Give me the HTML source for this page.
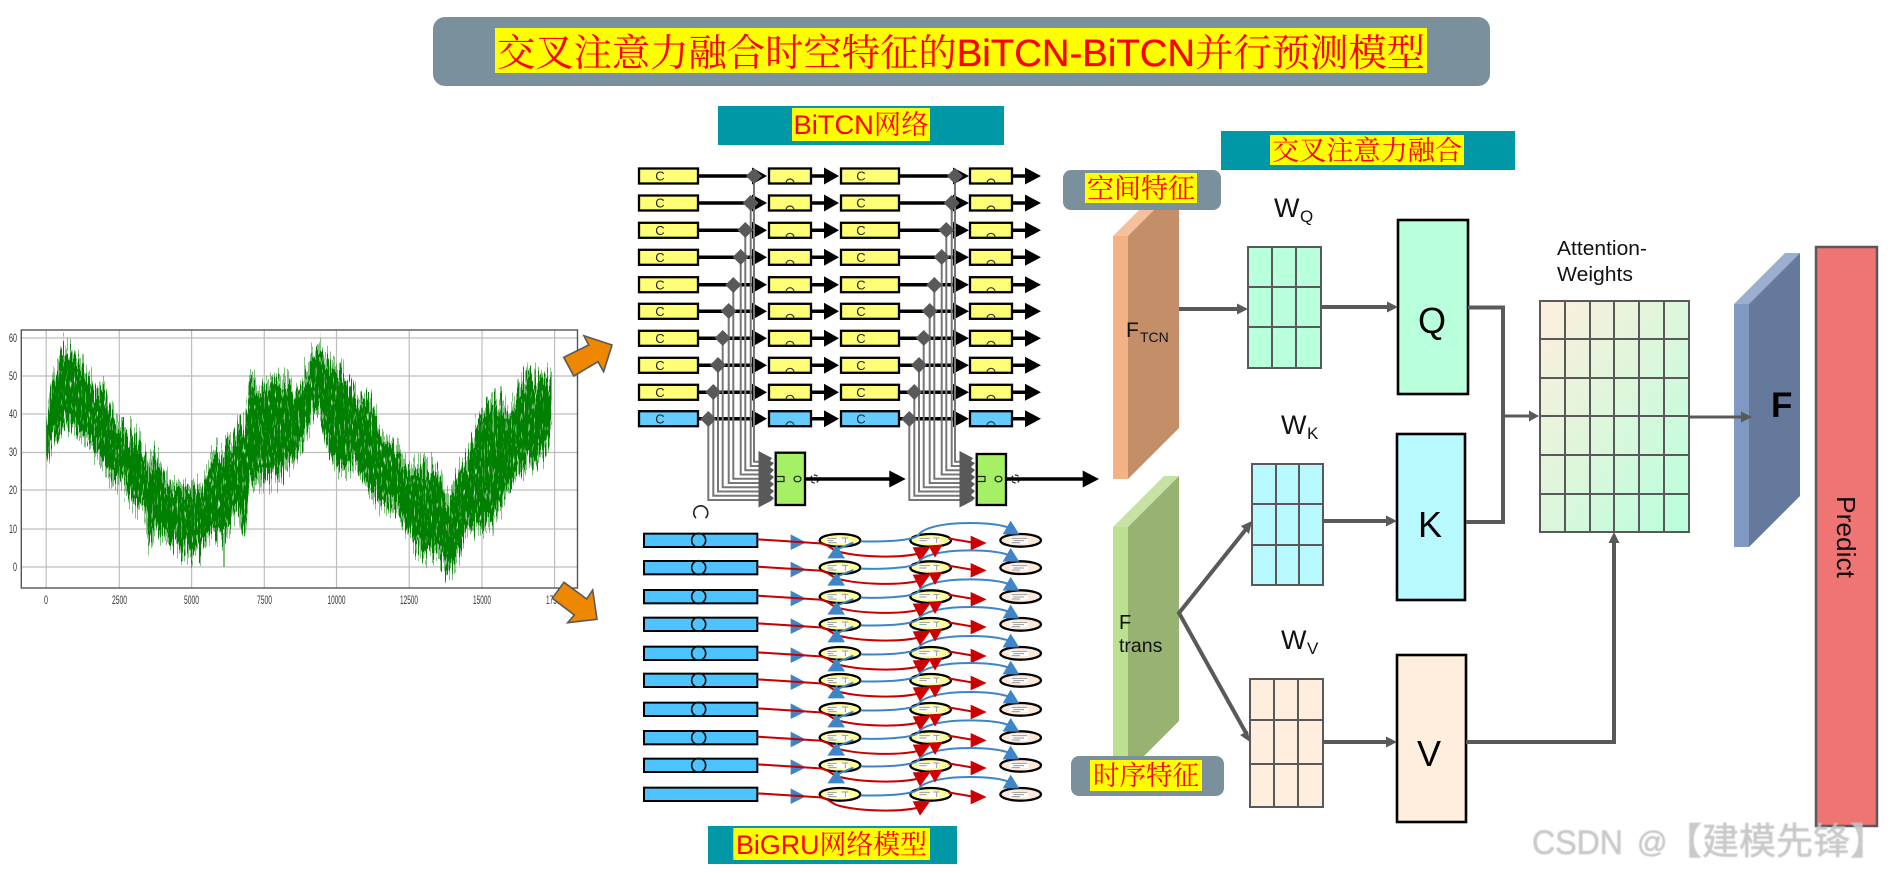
<!DOCTYPE html>
<html><head><meta charset="utf-8"><style>html,body{margin:0;padding:0;background:#fff}svg{display:block}text{font-family:"Liberation Sans","Noto Serif CJK SC",serif}</style></head><body>
<svg xmlns="http://www.w3.org/2000/svg" width="1890" height="873" viewBox="0 0 1890 873">
<defs>
<linearGradient id="ag" x1="0" y1="0" x2="1" y2="1"><stop offset="0" stop-color="#ffeedd"/><stop offset="1" stop-color="#b8ffdb"/></linearGradient>
<filter id="jag" filterUnits="userSpaceOnUse" x="0" y="320" width="600" height="280" color-interpolation-filters="sRGB">
<feTurbulence type="fractalNoise" baseFrequency="0.85 0.006" numOctaves="2" seed="7" result="n"/>
<feColorMatrix in="n" type="matrix" values="0 0 0 0 .5  0 2 0 0 -.5  0 0 0 0 .5  0 0 0 0 1" result="m"/>
<feDisplacementMap in="SourceGraphic" in2="m" scale="32" xChannelSelector="R" yChannelSelector="G" result="d"/>
<feTurbulence type="fractalNoise" baseFrequency="0.7 0.09" numOctaves="2" seed="3" result="t"/>
<feColorMatrix in="t" type="matrix" values="0 0 0 0 0  0 0 0 0 0  0 0 0 0 0  6 0 0 0 -1.2" result="mask"/>
<feComposite in="d" in2="mask" operator="in"/>
</filter>
<filter id="soft" x="-5%" y="-20%" width="110%" height="140%"><feGaussianBlur stdDeviation=".5"/></filter>
<g id="tr">
<path d="M698 0H754M811 0H826M899 0H955M1012 0H1027" stroke="#000" stroke-width="3.5" fill="none"/>
<path d="M752 -8.5L767 0L752 8.5ZM824 -8.5L839 0L824 8.5ZM953 -8.5L969 0L953 8.5ZM1025 -8.5L1041 0L1025 8.5Z" fill="#000"/>
<g stroke="#000" stroke-width="2.3"><rect x="639" y="-7.5" width="59" height="15"/><rect x="769" y="-7.5" width="42" height="15"/><rect x="841" y="-7.5" width="58" height="15"/><rect x="970" y="-7.5" width="42" height="15"/></g>
<g font-size="13" fill="#222" text-anchor="middle"><text x="660" y="4.7">C</text><text x="861" y="4.7">C</text></g>
<path d="M786 7a4 4 0 1 1 8 0M987 7a4 4 0 1 1 8 0" fill="none" stroke="#333" stroke-width="1.2"/>
</g>
<g id="wires" fill="none" stroke="#777" stroke-width="2">
<path d="M754 176V461.7H759M750.7 203V466H759M745.3 230V470.2H759M740.7 257V474.5H759M733.3 285V478.7H759M728.7 311V483H759M722.7 338V487.3H759M718 365V491.5H759M713.3 392V495.8H759M708.3 419V500H759"/>
</g>
<g id="dia" fill="#595959">
<path d="M754 168l8 8-8 8-8-8ZM750.7 195l8 8-8 8-8-8ZM745.3 222l8 8-8 8-8-8ZM740.7 249l8 8-8 8-8-8ZM733.3 277l8 8-8 8-8-8ZM728.7 303l8 8-8 8-8-8ZM722.7 330l8 8-8 8-8-8ZM718 357l8 8-8 8-8-8ZM713.3 384l8 8-8 8-8-8ZM708.3 411l8 8-8 8-8-8Z"/>
<path d="M758.5 451L772 458L770 461L774 463L770 467L774 470L770 474L774 477L770 481L774 484L770 488L774 491L770 495L774 498L771 501L758.5 507.5Z"/>
</g>
<g id="gr0">
<g fill="#ffff99" stroke="#000" stroke-width="7"><ellipse cx="660" cy="0" rx="61" ry="19"/><ellipse cx="932" cy="0" rx="61" ry="19"/></g>
<ellipse cx="1202" cy="0" rx="61" ry="19" fill="#fde9d9" stroke="#000" stroke-width="7"/>
<g fill="#fff"><rect x="618" y="-9" width="68" height="18"/><rect x="892" y="-9" width="66" height="18"/><rect x="1170" y="-9" width="54" height="18"/></g>
<path d="M622 -6H650M622 1H640M625 7H650M665 -7H685M676 -7V8M898 -6H930M898 1H920M940 -7H958M950 -7V8M1175 -6H1222M1180 1H1212M1175 7H1200" stroke="#999" stroke-width="3" fill="none"/>
<rect x="72" y="-20" width="340" height="40" fill="#4fc3ff" stroke="#000" stroke-width="6"/>
<path d="M412 -3L512 3" stroke="#3d85c6" stroke-width="5" fill="none"/>
<path d="M512 -18L558 6L512 29Z" fill="#3d85c6"/>
<path d="M722 3C800 5 880 0 895 -15C905 -35 960 -52 1050 -52C1110 -52 1150 -45 1172 -36" stroke="#3d85c6" stroke-width="6" fill="none"/>
<path d="M1148 -18L1172 -59L1198 -18Z" fill="#3d85c6"/>
<path d="M412 -3L600 9C630 13 630 28 660 35C720 50 840 55 902 38" stroke="#c80000" stroke-width="6" fill="none"/>
<path d="M878 21L932 19L900 64Z" fill="#cc0000"/>
<path d="M985 -6L1055 6" stroke="#c80000" stroke-width="6" fill="none"/>
<path d="M1052 -14L1100 8L1052 30Z" fill="#cc0000"/>
</g>
<g id="gr1">
<circle cx="236" cy="0" r="21" fill="none" stroke="#111" stroke-width="5"/>
<path d="M700 7L648 28" stroke="#3d85c6" stroke-width="6" fill="none"/>
<path d="M622 54L650 14L675 54Z" fill="#3d85c6"/>
<path d="M925 15L968 13L945 52Z" fill="#cc0000"/>
</g>
</defs>

<!-- Chart -->
<g stroke="#bdbdbd" stroke-width="1.2" fill="none">
<path d="M46.2 330V588M119.3 330V588M191.6 330V588M264.3 330V588M336.5 330V588M409.2 330V588M482 330V588M554.6 330V588"/>
<path d="M21 338H577.5M21 376H577.5M21 414H577.5M21 452.5H577.5M21 490H577.5M21 529H577.5M21 567H577.5"/>
</g>
<g filter="url(#jag)"><polygon transform="translate(0,300) scale(.4017,.3333)" fill="#008000" points="115,367 130,242 155,142 200,172 240,272 265,277 280,337 300,392 335,397 360,462 370,512 385,467 420,552 470,562 505,562 525,462 560,457 590,387 610,382 620,252 660,267 690,232 740,277 775,167 795,137 810,182 850,212 885,277 920,297 955,397 990,442 1010,502 1050,507 1090,502 1115,612 1145,507 1165,472 1190,362 1225,297 1270,317 1300,232 1350,237 1373,232 1373,398 1350,478 1300,508 1270,558 1225,668 1190,683 1165,688 1145,748 1115,818 1090,778 1050,758 1010,688 990,628 955,618 920,578 885,488 850,508 810,438 795,328 775,348 740,468 690,533 660,543 620,558 610,718 590,618 560,708 525,698 505,748 470,758 420,728 385,678 370,738 360,618 335,618 300,543 280,548 265,508 240,458 200,378 155,388 130,418 115,498"/></g>
<path d="M224 533V567" stroke="#008000" stroke-width="1"/>
<rect x="21.3" y="330" width="556.2" height="258" fill="none" stroke="#555" stroke-width="1.4"/>
<g font-size="12" fill="#333">
<text x="9" y="342" textLength="8" lengthAdjust="spacingAndGlyphs">60</text><text x="9" y="380" textLength="8" lengthAdjust="spacingAndGlyphs">50</text><text x="9" y="418" textLength="8" lengthAdjust="spacingAndGlyphs">40</text><text x="9" y="456" textLength="8" lengthAdjust="spacingAndGlyphs">30</text><text x="9" y="494" textLength="8" lengthAdjust="spacingAndGlyphs">20</text><text x="9" y="533" textLength="8" lengthAdjust="spacingAndGlyphs">10</text><text x="13" y="571" textLength="4" lengthAdjust="spacingAndGlyphs">0</text>
<text x="44" y="604" textLength="4" lengthAdjust="spacingAndGlyphs">0</text><text x="112" y="604" textLength="15" lengthAdjust="spacingAndGlyphs">2500</text><text x="184" y="604" textLength="15" lengthAdjust="spacingAndGlyphs">5000</text><text x="257" y="604" textLength="15" lengthAdjust="spacingAndGlyphs">7500</text><text x="327.5" y="604" textLength="18" lengthAdjust="spacingAndGlyphs">10000</text><text x="400" y="604" textLength="18" lengthAdjust="spacingAndGlyphs">12500</text><text x="473" y="604" textLength="18" lengthAdjust="spacingAndGlyphs">15000</text><text x="546" y="604" textLength="18" lengthAdjust="spacingAndGlyphs">17500</text>
</g>
<path d="M563.7 357.3L588.7 345L583.9 335.7L612 345L603.6 371.7L598 361.7L573.8 376Z" fill="#ee8800" stroke="#595959" stroke-width="1.6"/>
<path d="M552.3 598.3L564 582.3L586.7 599L592.7 590L597 619.3L567.7 622.7L574.3 615Z" fill="#ee8800" stroke="#595959" stroke-width="1.6"/>

<!-- Title -->
<rect x="433" y="17" width="1057" height="69" rx="12" fill="#7a909d"/>
<rect x="495" y="28" width="932" height="45" fill="#ffff00"/>
<text x="497" y="66" font-size="38" fill="#ff0000" textLength="928" lengthAdjust="spacingAndGlyphs">交叉注意力融合时空特征的<tspan stroke="#ff0000" stroke-width=".3">BiTCN-BiTCN</tspan>并行预测模型</text>

<rect x="718" y="106" width="286" height="39" fill="#0097a7"/>
<rect x="792" y="108" width="138" height="33" fill="#ffff00"/>
<text x="793.5" y="134" font-size="27" fill="#ff0000" textLength="135" lengthAdjust="spacingAndGlyphs">BiTCN网络</text>

<rect x="1221" y="131" width="294" height="39" fill="#0097a7"/>
<rect x="1270" y="135" width="194" height="30" fill="#ffff00"/>
<text x="1272" y="160" font-size="27" fill="#ff0000" textLength="190" lengthAdjust="spacingAndGlyphs">交叉注意力融合</text>

<!-- BiTCN rows -->
<g fill="#ffff77">
<use href="#tr" y="176"/><use href="#tr" y="203"/><use href="#tr" y="230.3"/><use href="#tr" y="257.3"/><use href="#tr" y="284.7"/><use href="#tr" y="311.3"/><use href="#tr" y="338.3"/><use href="#tr" y="365.3"/><use href="#tr" y="392.3"/>
</g>
<use href="#tr" y="418.7" fill="#66ccff"/>
<use href="#wires"/><use href="#wires" x="201"/>
<use href="#dia"/><use href="#dia" x="201"/>
<rect x="775.7" y="452.7" width="29.3" height="52.3" fill="#a6f065" stroke="#000" stroke-width="2.3"/>
<rect x="976.7" y="454" width="29.3" height="51" fill="#a6f065" stroke="#000" stroke-width="2.3"/>
<g fill="none" stroke="#222" stroke-width="1.2">
<path d="M777 476.5H784V481.5H777M978 476.5H985V481.5H978"/>
<ellipse cx="797.5" cy="479" rx="3.5" ry="2.8"/><ellipse cx="998.5" cy="479" rx="3.5" ry="2.8"/>
<circle cx="814.5" cy="479" r="4" stroke-dasharray="4 2"/><circle cx="1015.5" cy="479" r="4" stroke-dasharray="4 2"/>
</g>
<path d="M805 479H892M1006 479H1085" stroke="#000" stroke-width="3.5"/>
<path d="M889.3 470.5L905.7 479L889.3 487.5ZM1082.7 470.5L1099 479L1082.7 487.5Z" fill="#000"/>
<path d="M696 518A7 7 0 1 1 705.5 518" fill="none" stroke="#222" stroke-width="1.6"/>

<!-- BiGRU rows -->
<g transform="translate(620,500) scale(.33333)">
<use href="#gr0" y="121"/><use href="#gr0" y="203"/><use href="#gr0" y="290"/><use href="#gr0" y="373"/><use href="#gr0" y="460"/><use href="#gr0" y="541"/><use href="#gr0" y="628"/><use href="#gr0" y="713"/><use href="#gr0" y="796"/><use href="#gr0" y="883"/>
<use href="#gr1" y="121"/><use href="#gr1" y="203"/><use href="#gr1" y="290"/><use href="#gr1" y="373"/><use href="#gr1" y="460"/><use href="#gr1" y="541"/><use href="#gr1" y="628"/><use href="#gr1" y="713"/><use href="#gr1" y="796"/>
</g>
<rect x="708" y="826" width="249" height="38" fill="#0097a7"/>
<rect x="733.3" y="828" width="196.7" height="32" fill="#ffff00"/>
<text x="736" y="854" font-size="27" fill="#ff0000" textLength="191" lengthAdjust="spacingAndGlyphs">BiGRU网络模型</text>

<!-- Prisms -->
<path d="M1113 236L1164 185H1179L1128 236Z" fill="#f5c19d"/>
<path d="M1128 236L1179 185V428L1128 479Z" fill="#c38e68"/>
<rect x="1113" y="236" width="15" height="243" fill="#f3b184"/>
<path d="M1113 527L1164 476H1179L1128 527Z" fill="#c7e2a5"/>
<path d="M1128 527L1179 476V721L1128 772Z" fill="#98b272"/>
<rect x="1113" y="527" width="15" height="245" fill="#bbe08f"/>

<rect x="1063" y="170" width="158" height="40" rx="8" fill="#7a909d"/>
<rect x="1085" y="173" width="112" height="30" fill="#ffff00"/>
<text x="1087" y="198" font-size="27" fill="#ff0000" textLength="108" lengthAdjust="spacingAndGlyphs">空间特征</text>
<rect x="1071" y="756" width="153" height="40" rx="8" fill="#7a909d"/>
<rect x="1090" y="760" width="112" height="31" fill="#ffff00"/>
<text x="1093" y="785" font-size="27" fill="#ff0000" textLength="106" lengthAdjust="spacingAndGlyphs">时序特征</text>

<g fill="#111">
<text x="1126" y="337" font-size="21">F</text><text x="1140" y="342" font-size="14">TCN</text>
<text x="1119" y="629" font-size="20">F</text><text x="1119" y="652" font-size="19.5">trans</text>
<text x="1274" y="217" font-size="27">W</text><text x="1300" y="222" font-size="17">Q</text>
<text x="1281" y="434" font-size="27">W</text><text x="1307" y="439" font-size="17">K</text>
<text x="1281" y="649" font-size="27">W</text><text x="1307" y="654" font-size="17">V</text>
</g>

<!-- Grids -->
<g stroke="#595959" stroke-width="2">
<rect x="1248" y="247" width="73" height="121" fill="#b8ffdb"/><path d="M1272 247V368M1296 247V368M1248 287H1321M1248 327H1321" fill="none"/>
<rect x="1252" y="464" width="71" height="121" fill="#b8f8ff"/><path d="M1276 464V585M1299 464V585M1252 504H1323M1252 545H1323" fill="none"/>
<rect x="1250" y="679" width="73" height="128" fill="#ffeedd"/><path d="M1274 679V807M1298 679V807M1250 720H1323M1250 764H1323" fill="none"/>
<rect x="1540" y="301" width="149" height="231" fill="url(#ag)"/><path d="M1565 301V532M1590 301V532M1614 301V532M1639 301V532M1664 301V532M1540 339H1689M1540 378H1689M1540 416H1689M1540 455H1689M1540 494H1689" fill="none"/>
</g>

<!-- Boxes -->
<g stroke="#000" stroke-width="2.6">
<rect x="1398" y="220" width="70" height="174" fill="#b8ffdb"/>
<rect x="1397" y="434" width="68" height="166" fill="#b8f8ff"/>
<rect x="1397" y="655" width="69" height="167" fill="#ffeedd"/>
</g>
<g font-size="36" fill="#000">
<text x="1418" y="333">Q</text><text x="1418" y="537">K</text><text x="1417" y="766">V</text>
</g>

<!-- Connectors -->
<g fill="none" stroke="#595959" stroke-width="4">
<path d="M1179 309H1240"/>
<path d="M1321 307H1389"/>
<path d="M1323 521H1388"/>
<path d="M1323 742H1388"/>
<path d="M1247 528L1179 613L1246 733"/>
<path d="M1468 307.5H1503V522H1466"/>
<path d="M1466 742H1614V540"/>
</g>
<path d="M1503 416H1531" stroke="#595959" stroke-width="3" fill="none"/>
<g fill="#595959">
<path d="M1237 303.5L1248 309L1237 314.5Z"/>
<path d="M1387 301.5L1398 307L1387 312.5Z"/>
<path d="M1386 515.5L1397 521L1386 526.5Z"/>
<path d="M1386 736.5L1397 742L1386 747.5Z"/>
<path d="M1529 410.5L1539 416L1529 421.5Z"/>
<path d="M1608.5 543L1614 532L1619.5 543Z"/>
<path d="M1252 521L1241 526L1249 534Z"/>
<path d="M1250 742L1240 735L1248 731Z"/>
</g>

<text x="1557" y="255" font-size="20" fill="#111" textLength="90" lengthAdjust="spacingAndGlyphs">Attention-</text>
<text x="1557" y="281" font-size="20" fill="#111" textLength="76" lengthAdjust="spacingAndGlyphs">Weights</text>

<!-- F prism -->
<path d="M1734 304L1785 253H1800L1749 304Z" fill="#9aaecf"/>
<path d="M1749 304L1800 253V496L1749 547Z" fill="#64799c"/>
<rect x="1734" y="304" width="15" height="243" fill="#7f99c3"/>
<path d="M1689 417H1743" stroke="#595959" stroke-width="3" fill="none"/>
<path d="M1741 411.5L1752 417L1741 422.5Z" fill="#595959"/>
<text x="1771" y="417" font-size="35" font-weight="bold" fill="#000">F</text>

<rect x="1816" y="247" width="61" height="579" fill="#ef7575" stroke="#595959" stroke-width="2.5"/>
<text transform="translate(1837,496) rotate(90)" font-size="26" fill="#111" textLength="82" lengthAdjust="spacingAndGlyphs">Predict</text>

<!-- Watermark -->
<g fill="#c4c4c4" fill-opacity=".9" stroke="#c4c4c4" stroke-width=".5" filter="url(#soft)">
<text x="1532" y="854" font-size="34" textLength="91" lengthAdjust="spacingAndGlyphs">CSDN</text>
<text x="1637" y="852" font-size="30">@</text>
<text x="1665" y="854" font-size="37" style="font-family:'Noto Sans CJK SC',sans-serif">【建模先锋】</text>
</g>
</svg>
</body></html>
